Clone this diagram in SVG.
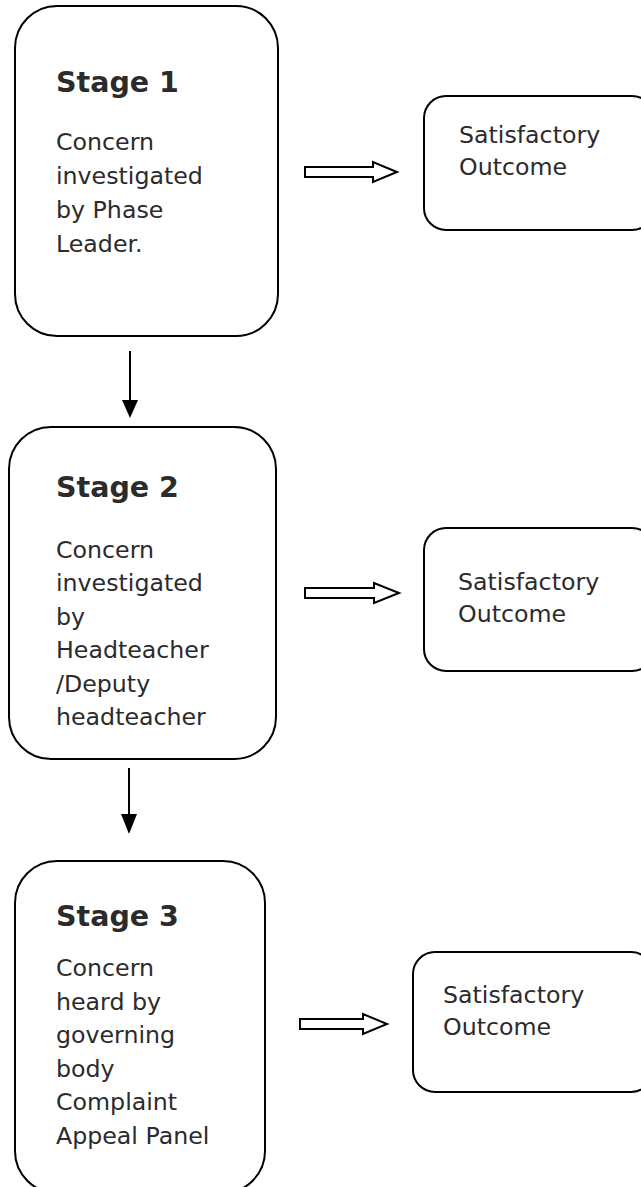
<svg xmlns="http://www.w3.org/2000/svg" width="641" height="1187" viewBox="0 0 641 1187">
<defs>
<style>
.box{fill:#fff;stroke:#000;stroke-width:2}
.title{font-family:"DejaVu Sans",Verdana,sans-serif;font-weight:bold;font-size:28.5px;fill:#2b2b2b}
.body{font-family:"DejaVu Sans",Verdana,sans-serif;font-size:23.7px;fill:#2b2b2b}
.blk{fill:#fff;stroke:#000;stroke-width:2;stroke-linejoin:miter}
.down{stroke:#000;stroke-width:2;fill:none}
.head{fill:#000}
</style>
</defs>
<rect width="641" height="1187" fill="#fff"/>
<g id="stage1">
<rect class="box" x="15" y="6" width="263" height="330" rx="42" ry="42"/>
<text class="title" x="56" y="92">Stage 1</text>
<text class="body" x="56" y="150">Concern</text>
<text class="body" x="56" y="184">investigated</text>
<text class="body" x="56" y="218">by Phase</text>
<text class="body" x="56" y="252">Leader.</text>
</g>
<g id="outcome1">
<rect class="box" x="424" y="96" width="230" height="134" rx="22" ry="22"/>
<text class="body" x="459" y="143">Satisfactory</text>
<text class="body" x="459" y="175">Outcome</text>
</g>
<g id="stage2">
<rect class="box" x="9" y="427" width="267" height="332" rx="42" ry="42"/>
<text class="title" x="56" y="497">Stage 2</text>
<text class="body" x="56" y="558">Concern</text>
<text class="body" x="56" y="591">investigated</text>
<text class="body" x="56" y="625">by</text>
<text class="body" x="56" y="658">Headteacher</text>
<text class="body" x="56" y="692">/Deputy</text>
<text class="body" x="56" y="725">headteacher</text>
</g>
<g id="outcome2">
<rect class="box" x="424" y="528" width="230" height="143" rx="22" ry="22"/>
<text class="body" x="458" y="590">Satisfactory</text>
<text class="body" x="458" y="622">Outcome</text>
</g>
<g id="stage3">
<rect class="box" x="15" y="861" width="250" height="332" rx="42" ry="42"/>
<text class="title" x="56" y="926">Stage 3</text>
<text class="body" x="56" y="976">Concern</text>
<text class="body" x="56" y="1010">heard by</text>
<text class="body" x="56" y="1043">governing</text>
<text class="body" x="56" y="1077">body</text>
<text class="body" x="56" y="1110">Complaint</text>
<text class="body" x="56" y="1144">Appeal Panel</text>
</g>
<g id="outcome3">
<rect class="box" x="413" y="952" width="240" height="140" rx="22" ry="22"/>
<text class="body" x="443" y="1003">Satisfactory</text>
<text class="body" x="443" y="1035">Outcome</text>
</g>
<g id="connectors">
<path class="blk" d="M305,167 L373,167 L373,162 L397,172 L373,182 L373,177 L305,177 Z"/>
<path class="blk" d="M305,588 L374,588 L374,583 L399,593 L374,603 L374,598 L305,598 Z"/>
<path class="blk" d="M300,1019 L363,1019 L363,1014 L387,1024 L363,1034 L363,1029 L300,1029 Z"/>
<line class="down" x1="130" y1="351" x2="130" y2="402"/>
<path class="head" d="M122,400 L138,400 L130,418 Z"/>
<line class="down" x1="129" y1="768" x2="129" y2="816"/>
<path class="head" d="M121,814 L137,814 L129,834 Z"/>
</g>
</svg>
